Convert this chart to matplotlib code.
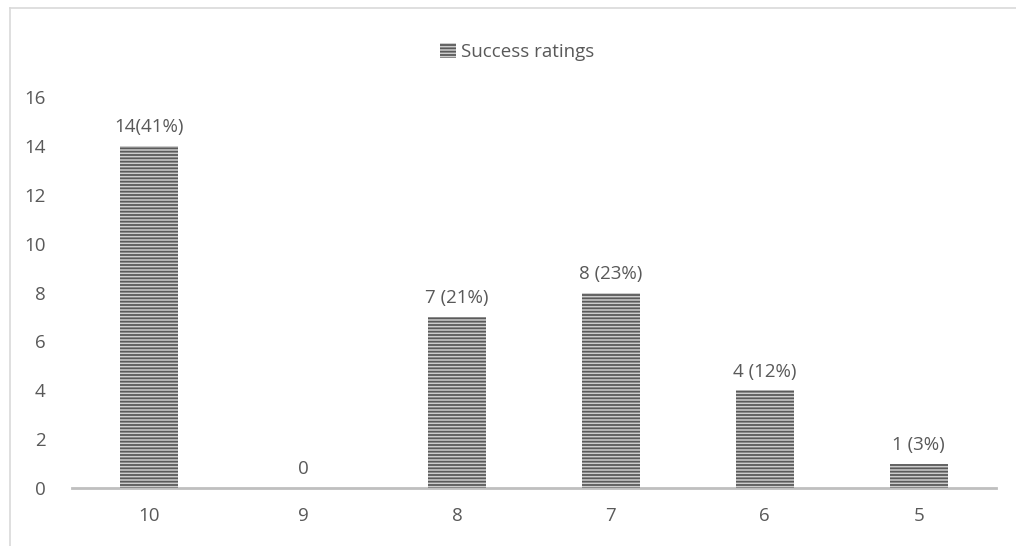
import matplotlib
matplotlib.use("Agg")
import matplotlib.pyplot as plt
from matplotlib.patches import Patch
from matplotlib.lines import Line2D

categories = ["10", "9", "8", "7", "6", "5"]
values = [14, 0, 7, 8, 4, 1]
labels = ["14(41%)", "0", "7 (21%)", "8 (23%)", "4 (12%)", "1 (3%)"]
series_name = "Success ratings"

plt.rcParams['font.family'] = ['Open Sans', 'DejaVu Sans']
plt.rcParams['hatch.linewidth'] = 1.3
txt = '#595959'
fs = 13.5

fig = plt.figure(figsize=(10.16, 5.46), dpi=100)
ax = fig.add_axes([0.0709, 0.1062, 0.9091, 0.7161])
x = list(range(len(categories)))
bars = ax.bar(x, values, width=0.377, facecolor='#cdcdcd', edgecolor='#5a5a5a',
              hatch='-----', linewidth=0)
for xi, v, lab in zip(x, values, labels):
    ax.annotate(lab, (xi, v), xytext=(0, 7), textcoords='offset points',
                ha='center', va='bottom', fontsize=fs, color=txt)

ax.set_xlim(-0.5, len(categories) - 0.5)
ax.set_ylim(0, 16)
ax.set_yticks(range(0, 17, 2))
ax.set_xticks(x)
ax.set_xticklabels(categories)
ax.tick_params(axis='both', length=0, labelsize=fs, labelcolor=txt)
ax.tick_params(axis='x', pad=14)
ax.tick_params(axis='y', pad=19)
for s in ['top', 'right', 'left']:
    ax.spines[s].set_visible(False)
ax.spines['bottom'].set_color('#bfbfbf')
ax.spines['bottom'].set_linewidth(2)
ax.spines['bottom'].set_zorder(0.5)

handle = Patch(facecolor='#cdcdcd', edgecolor='#5a5a5a', hatch='-----', linewidth=0)
fig.legend([handle], [series_name], loc='center', bbox_to_anchor=(0.509, 0.905),
           frameon=False, fontsize=fs, labelcolor=txt, handlelength=0.85,
           handleheight=0.85, handletextpad=0.25)

# chart border
W, H = 1016, 546
fig.add_artist(Line2D([9.5 / W, 9.5 / W], [0, 1 - 7.5 / H], color='#d9d9d9', lw=1.2,
                      transform=fig.transFigure))
fig.add_artist(Line2D([9.5 / W, 1], [1 - 7.5 / H, 1 - 7.5 / H], color='#d9d9d9', lw=1.2,
                      transform=fig.transFigure))

fig.savefig("out.png", dpi=100, facecolor='white')
